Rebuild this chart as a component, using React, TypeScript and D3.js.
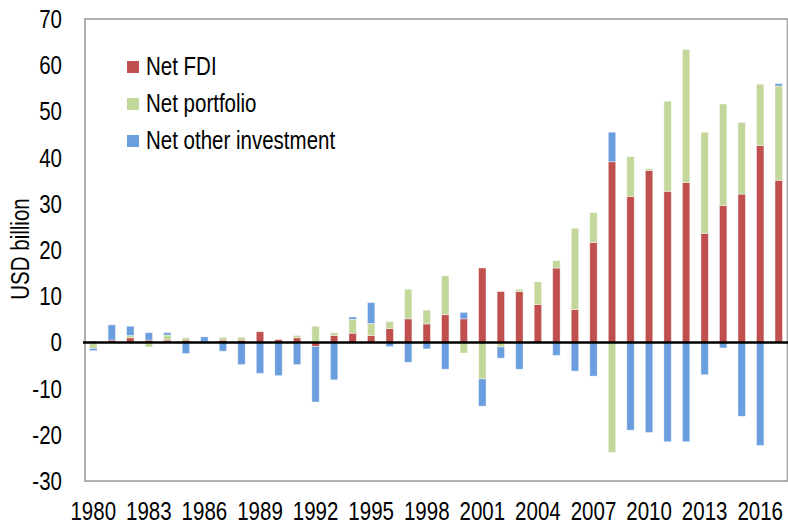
import React, { useEffect, useRef } from "react";
import * as d3 from "d3";

const years = d3.range(1980, 2018).map(String);
const netFdi = [
  0.2, 0.5, 1.0, 0.5, 0.5, 0.5, 0.1, 0.5, 0.5, 2.3,
  0.6, 1.0, -0.9, 1.5, 2.0, 1.5, 3.0, 5.1, 4.0, 6.0,
  5.1, 16.1, 11.0, 11.0, 8.2, 16.1, 7.1, 21.6, 39.1, 31.6,
  37.2, 32.7, 34.6, 23.6, 29.6, 32.1, 42.6, 35.1,
];
const netPortfolio = [
  -1.3, 0, 0.5, -1.0, 1.1, 0.5, 0, 0.6, 0.6, 0,
  0, 0.5, 3.5, 0.6, 3.0, 2.6, 1.5, 6.4, 3.0, 8.4,
  -2.3, -7.9, -1.0, 0.5, 4.9, 1.6, 17.6, 6.5, -23.8, 8.6,
  0.4, 19.5, 28.8, 21.9, 22.0, 15.5, 13.3, 20.4,
];
const netOther = [
  -0.5, 3.3, 2.0, 1.6, 0.5, -2.4, 1.1, -1.9, -4.8, -6.7,
  -7.2, -4.8, -12.0, -8.1, 0.5, 4.5, -0.9, -4.3, -1.4, -5.8,
  1.4, -5.9, -2.4, -5.8, 0, -2.8, -6.2, -7.3, 6.4, -19.0,
  -19.5, -21.5, -21.5, -7.0, -1.2, -16.0, -22.3, 0.5,
];
const seriesNames = ["Net FDI", "Net portfolio", "Net other investment"];
const seriesColors = ["#c0504d", "#c4d79b", "#6a9ede"];
const yTicks = [-30, -20, -10, 0, 10, 20, 30, 40, 50, 60, 70];
const xTickYears = d3.range(1980, 2018, 3).map(String);

const WIDTH = 788;
const HEIGHT = 524;
const MARGIN = { top: 19, right: 0, bottom: 43, left: 85 };
// no narrow font installed, so squeeze Liberation Sans horizontally
const FONT = "'Liberation Sans', Arial, sans-serif";
const FONT_SIZE = 25;
const SQUEEZE = 0.82;

type Row = { year: string; fdi: number; portfolio: number; other: number };

export default function App() {
  const svgRef = useRef<SVGSVGElement>(null);

  useEffect(() => {
    const svg = svgRef.current;
    if (!svg) return;
    d3.select(svg).selectAll("*").remove();

    const rows: Row[] = years.map((year, i) => ({
      year,
      fdi: netFdi[i],
      portfolio: netPortfolio[i],
      other: netOther[i],
    }));
    const keys = ["fdi", "portfolio", "other"];

    const x = d3
      .scaleBand()
      .domain(years)
      .range([MARGIN.left - 1, WIDTH - MARGIN.right])
      .paddingInner(0.6)
      .paddingOuter(0.3);
    const y = d3
      .scaleLinear()
      .domain([-30, 70])
      .range([HEIGHT - MARGIN.bottom, MARGIN.top]);

    const stacked = d3
      .stack<Row>()
      .keys(keys)
      .offset(d3.stackOffsetDiverging)(rows);

    const root = d3.select(svg);

    // plot area border
    root
      .append("rect")
      .attr("x", MARGIN.left)
      .attr("y", y(70))
      .attr("width", WIDTH - MARGIN.left - 0.5)
      .attr("height", y(-30) - y(70))
      .attr("fill", "none")
      .attr("stroke", "#a6a6a6")
      .attr("stroke-width", 1.75);

    // bars
    root
      .append("g")
      .selectAll("g")
      .data(stacked)
      .enter()
      .append("g")
      .attr("fill", (_, i) => seriesColors[i])
      .selectAll("rect")
      .data((s) => s)
      .enter()
      .append("rect")
      .attr("x", (d) => x(d.data.year) as number)
      .attr("width", x.bandwidth())
      .attr("y", (d) => y(Math.max(d[0], d[1])))
      .attr("height", (d) => Math.abs(y(d[0]) - y(d[1])))
      .attr("stroke", "#ffffff")
      .attr("stroke-width", 0.8)
      .attr("stroke-opacity", 0.5);

    // zero line
    root
      .append("line")
      .attr("x1", MARGIN.left - 2)
      .attr("x2", WIDTH)
      .attr("y1", y(0))
      .attr("y2", y(0))
      .attr("stroke", "#000")
      .attr("stroke-width", 2.5);

    const addText = (
      parent: d3.Selection<any, any, any, any>,
      tx: number,
      ty: number,
      label: string,
      anchor: string,
      rotate = 0
    ) =>
      parent
        .append("text")
        .attr(
          "transform",
          `translate(${tx},${ty})${rotate ? ` rotate(${rotate})` : ""} scale(${SQUEEZE},1)`
        )
        .attr("text-anchor", anchor)
        .attr("font-family", FONT)
        .attr("font-size", FONT_SIZE)
        .attr("fill", "#000")
        .text(label);

    // y tick labels
    const yg = root.append("g");
    yTicks.forEach((t) => addText(yg, 62, y(t) + 9, String(t), "end"));

    // x tick labels
    const xg = root.append("g");
    xTickYears.forEach((yr) =>
      addText(xg, (x(yr) as number) + x.bandwidth() / 2, 520, yr, "middle")
    );

    // y axis title
    addText(root, 29, 249, "USD billion", "middle", -90);

    // legend
    const legend = root.append("g");
    seriesNames.forEach((name, i) => {
      const base = 75 + i * 37;
      legend
        .append("rect")
        .attr("x", 127)
        .attr("y", base - 14)
        .attr("width", 12)
        .attr("height", 12)
        .attr("fill", seriesColors[i]);
      addText(legend, 146, base, name, "start");
    });
  }, []);

  return (
    <svg
      ref={svgRef}
      width={WIDTH}
      height={HEIGHT}
      style={{ position: "absolute", left: 0, top: 0, background: "#fff" }}
    />
  );
}
